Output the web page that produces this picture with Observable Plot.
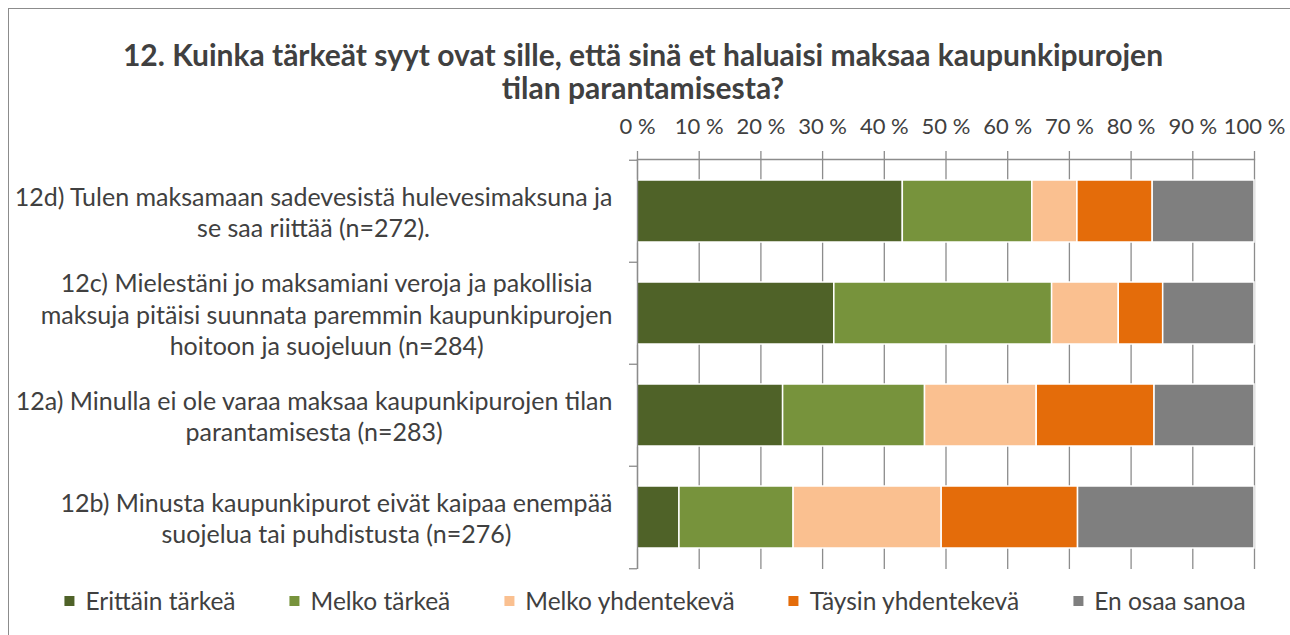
<!DOCTYPE html>
<html>
<head>
<meta charset="utf-8">
<script src="https://cdn.jsdelivr.net/npm/d3@7"></script>
<script src="https://cdn.jsdelivr.net/npm/@observablehq/plot@0.6"></script>
<style>
  html, body { margin: 0; padding: 0; background: #fff; }
  #wrap { position: relative; width: 1290px; height: 635px; overflow: hidden; font-family: Lato, "Open Sans", sans-serif; color: #404040; }
  #border { position: absolute; left: 8px; top: 8px; right: -10px; bottom: -10px; border-top: 1px solid #8c8c8c; border-left: 1px solid #8c8c8c; }
  #title { position: absolute; left: 0; width: 1286px; top: 38px; text-align: center; font-weight: bold; font-size: 30px; line-height: 33px; color: #404040; }
  #legend { position: absolute; top: 587px; left: 655px; transform: translateX(-50%); display: flex; gap: 54px; white-space: nowrap; font-size: 24.5px; line-height: 28px; }
  .item { display: flex; align-items: center; gap: 11px; }
  .sw { width: 10px; height: 10px; display: inline-block; }
  #chart { position: absolute; left: 0; top: 0; }
</style>
</head>
<body>
<div id="wrap">
  <div id="border"></div>
  <div id="chart"></div>
  <div id="title">12. Kuinka tärkeät syyt ovat sille, että sinä et haluaisi maksaa kaupunkipurojen<br>tilan parantamisesta?</div>
  <div id="legend"></div>
</div>
<script>
// Categories (top to bottom)
const items = [
  "12d) Tulen maksamaan sadevesistä hulevesimaksuna ja\nse saa riittää (n=272).",
  "12c) Mielestäni jo maksamiani veroja ja pakollisia\nmaksuja pitäisi suunnata paremmin kaupunkipurojen\nhoitoon ja suojeluun (n=284)",
  "12a) Minulla ei ole varaa maksaa kaupunkipurojen tilan\nparantamisesta (n=283)",
  "12b) Minusta kaupunkipurot eivät kaipaa enempää\nsuojelua tai puhdistusta (n=276)"
];
// Response levels
const levels = ["Erittäin tärkeä", "Melko tärkeä", "Melko yhdentekevä", "Täysin yhdentekevä", "En osaa sanoa"];
const colors = ["#4F6228", "#77933C", "#FAC090", "#E46C0A", "#7F7F7F"];
// Shares (%) per item, in level order
const v12d = [43.0, 21.0, 7.3, 12.2, 16.5];
const v12c = [31.9, 35.3, 10.8, 7.2, 14.8];
const v12a = [23.6, 23.0, 18.1, 19.1, 16.2];
const v12b = [6.8, 18.5, 24.0, 22.1, 28.6];
const series = [v12d, v12c, v12a, v12b];
// X tick values
const xTicks = [0, 10, 20, 30, 40, 50, 60, 70, 80, 90, 100];

const rows = [];
levels.forEach((lev, j) => {
  items.forEach((it, i) => rows.push({item: it, level: lev, value: series[i][j]}));
});

const W = 1290, H = 635, mt = 159, mb = 66, ml = 637, mr = 36;
const pIn = 0.39, pOut = 0.195;
const step = (H - mt - mb) / (items.length - pIn + 2 * pOut);
const gridColor = "#8c8c8c";

const chart = Plot.plot({
  width: W, height: H,
  marginTop: mt, marginBottom: mb, marginLeft: ml, marginRight: mr,
  style: {fontFamily: "Lato, 'Open Sans', sans-serif", fontSize: "23px", color: "#404040", background: "transparent", overflow: "visible"},
  x: {domain: [0, 100], label: null},
  y: {domain: items, paddingInner: pIn, paddingOuter: pOut, label: null},
  color: {domain: levels, range: colors},
  marks: [
    Plot.ruleX(xTicks, {x: d => d, stroke: gridColor, strokeWidth: 1.3, insetTop: -8}),
    Plot.barX(rows, {x: "value", y: "item", fill: "level", stroke: "white", strokeWidth: 1.5, order: levels}),
    Plot.ruleX([0], {stroke: gridColor, strokeWidth: 1.3}),
    Plot.frame({anchor: "top", stroke: gridColor, strokeWidth: 1.3}),
    Plot.ruleY(items, {y: d => d, x1: 0, x2: 0, insetLeft: -8, dy: -step / 2, stroke: gridColor, strokeWidth: 1.3}),
    Plot.ruleY(items.slice(-1), {y: d => d, x1: 0, x2: 0, insetLeft: -8, dy: step / 2, stroke: gridColor, strokeWidth: 1.3}),
    Plot.axisX(xTicks, {anchor: "top", label: null, tickSize: 0, tickPadding: 26, tickFormat: d => `${d} %`, fill: "#404040", fontSize: "22px"}),
    Plot.axisY({anchor: "left", label: null, tickSize: 0, tickPadding: 25, textAnchor: "end", lineHeight: 1.25, fill: "#404040", fontSize: "25px"})
  ]
});
document.getElementById("chart").appendChild(chart);

// Excel-style wrapped labels: block right-aligned, lines centered within block
chart.querySelectorAll('g[aria-label="y-axis tick label"] text').forEach(t => {
  const w = t.getBBox().width;
  t.setAttribute("text-anchor", "middle");
  const tsp = t.querySelectorAll("tspan");
  if (tsp.length) tsp.forEach(s => s.setAttribute("x", -w / 2));
  else t.setAttribute("x", -w / 2);
});

// Legend
const lg = document.getElementById("legend");
levels.forEach((lev, j) => {
  const d = document.createElement("div");
  d.className = "item";
  d.innerHTML = `<span class="sw" style="background:${colors[j]}"></span><span>${lev}</span>`;
  lg.appendChild(d);
});
</script>
</body>
</html>
